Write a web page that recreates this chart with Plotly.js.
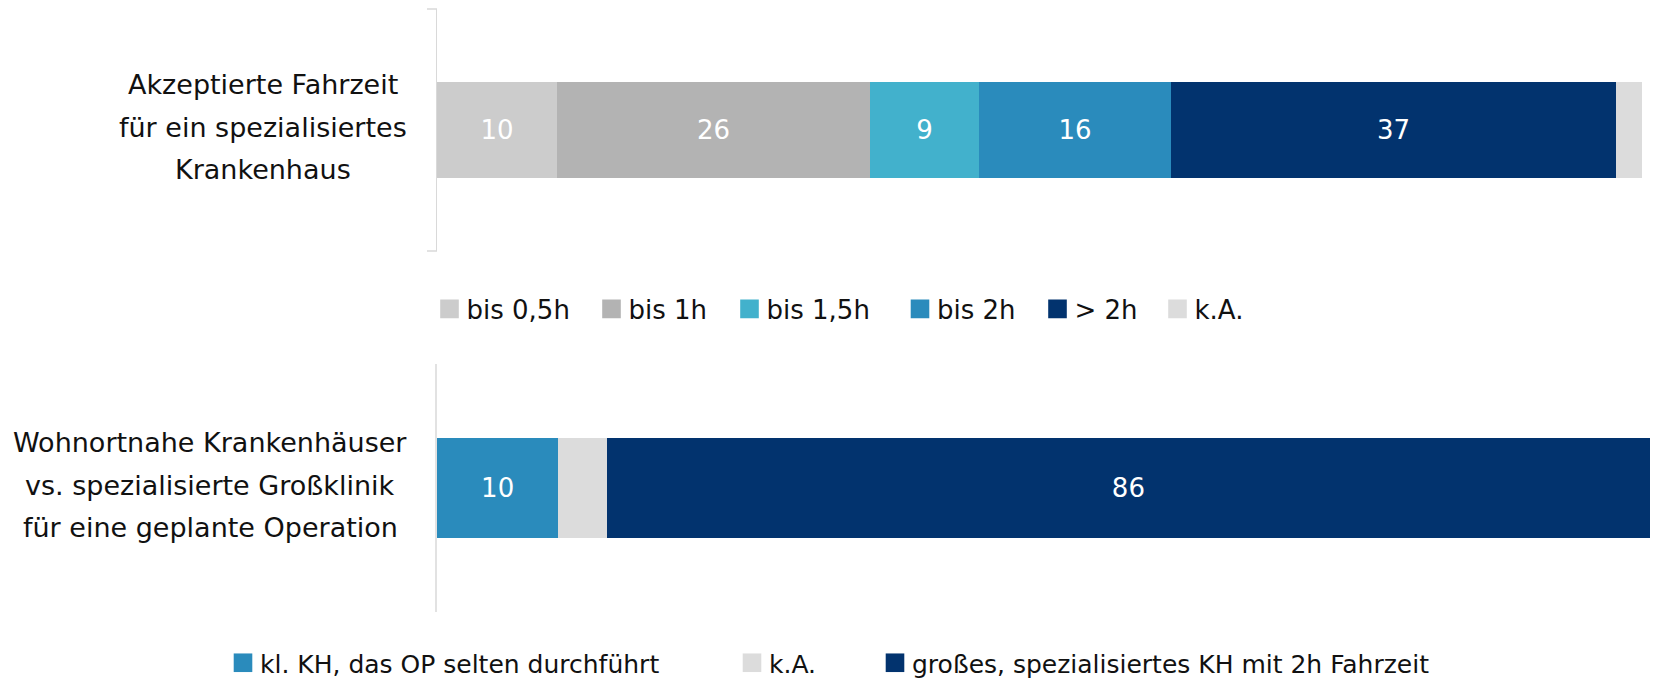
<!DOCTYPE html>
<html>
<head>
<meta charset="utf-8">
<script src="https://cdn.plot.ly/plotly-3.0.1.min.js"></script>
<style>
  html, body { margin: 0; padding: 0; background: #ffffff; overflow: hidden; width: 1654px; height: 681px; }
  #chart { position: absolute; left: 0; top: 0; width: 1654px; height: 681px; overflow: hidden; }
</style>
</head>
<body>
<div id="chart"></div>
<script>
// ---------- data ----------
var categoryTop = 'Akzeptierte Fahrzeit für ein spezialisiertes Krankenhaus';
var categoryBottom = 'Wohnortnahe Krankenhäuser vs. spezialisierte Großklinik für eine geplante Operation';
var labelLinesTop = ['Akzeptierte Fahrzeit', 'für ein spezialisiertes', 'Krankenhaus'];
var labelLinesBottom = ['Wohnortnahe Krankenhäuser', 'vs. spezialisierte Großklinik', 'für eine geplante Operation'];

var seriesTop = ['bis 0,5h', 'bis 1h', 'bis 1,5h', 'bis 2h', '> 2h', 'k.A.'];
var valuesTop = [9.9, 25.8, 9.0, 15.8, 36.7, 2.1];
var colorsTop = ['#cccccc', '#b3b3b3', '#42b1cc', '#2a8bbc', '#02336e', '#dcdcdc'];
var showValueTop = [true, true, true, true, true, false];

var seriesBottom = ['kl. KH, das OP selten durchführt', 'k.A.', 'großes, spezialisiertes KH mit 2h Fahrzeit'];
var valuesBottom = [10.0, 4.0, 86.0];
var colorsBottom = ['#2a8bbc', '#dcdcdc', '#02336e'];
var showValueBottom = [true, false, true];

// ---------- layout constants (pixels of the 1654x681 page) ----------
var W = 1654, H = 681;
var FONT = 'DejaVu Sans, Verdana, sans-serif';
var legendCentersTop = [449.5, 611.5, 749.5, 920, 1057.5, 1177.5];
var legendCenterYTop = 309;
var legendFontTop = 26;
var legendCentersBottom = [243, 752, 895];
var legendCenterYBottom = 663;
var legendFontBottom = 25;
var labelCenterXTop = 263;
var labelCenterXBottom = 210;
var SWATCH_SHIFT = 3;

var traces = [];
var layout = {
  width: W, height: H, autosize: false,
  margin: {l: 0, r: 0, t: 0, b: 0, pad: 0, autoexpand: false},
  paper_bgcolor: '#ffffff', plot_bgcolor: '#ffffff',
  barmode: 'stack',
  showlegend: true,
  font: {family: FONT, color: '#111111', size: 24},
  hovermode: false,
  xaxis:  {domain: [437 / W, 1650 / W], range: [0, 100], visible: false, fixedrange: true},
  xaxis2: {domain: [437 / W, 1650 / W], range: [0, 100], visible: false, fixedrange: true, anchor: 'y2'},
  yaxis:  {domain: [1 - 251 / H, 1 - 9 / H], type: 'category', range: [-0.5, 0.5],
           showticklabels: false, ticks: '', showgrid: false, zeroline: false,
           showline: true, linecolor: '#d9d9d9', linewidth: 1.5, anchor: 'x', fixedrange: true},
  yaxis2: {domain: [1 - 612 / H, 1 - 364 / H], type: 'category', range: [-0.5, 0.5],
           showticklabels: false, ticks: '', showgrid: false, zeroline: false,
           showline: true, linecolor: '#e2e2e2', linewidth: 2, anchor: 'x2', fixedrange: true},
  annotations: [],
  shapes: [
    {type: 'line', xref: 'paper', yref: 'y domain', x0: 427 / W, x1: 437 / W, y0: 1, y1: 1,
     line: {color: '#d9d9d9', width: 1.5}},
    {type: 'line', xref: 'paper', yref: 'y domain', x0: 427 / W, x1: 437 / W, y0: 0, y1: 0,
     line: {color: '#d9d9d9', width: 1.5}}
  ]
};

var legendIndex = 0;
function legendName(i) { return i === 0 ? 'legend' : 'legend' + (i + 1); }
function addLegend(cx, cy, fs) {
  var name = legendName(legendIndex);
  layout[name] = {
    x: (cx - 20 - SWATCH_SHIFT) / W, xanchor: 'left',
    y: 1 - cy / H, yanchor: 'middle',
    orientation: 'h', bgcolor: 'rgba(0,0,0,0)', borderwidth: 0,
    font: {family: FONT, size: fs, color: '#111111'},
    itemclick: false, itemdoubleclick: false, visible: true
  };
  legendIndex++;
  return name;
}

seriesTop.forEach(function (name, i) {
  traces.push({
    type: 'bar', orientation: 'h',
    name: name, showlegend: true,
    y: [categoryTop], x: [valuesTop[i]],
    xaxis: 'x', yaxis: 'y',
    width: 0.4,
    marker: {color: colorsTop[i], line: {width: 0}},
    texttemplate: showValueTop[i] ? '%{x:.0f}' : '',
    textposition: 'inside', insidetextanchor: 'middle',
    textfont: {family: FONT, size: 26, color: '#ffffff'},
    constraintext: 'none',
    legend: addLegend(legendCentersTop[i], legendCenterYTop, legendFontTop)
  });
});

seriesBottom.forEach(function (name, i) {
  traces.push({
    type: 'bar', orientation: 'h',
    name: name, showlegend: true,
    y: [categoryBottom], x: [valuesBottom[i]],
    xaxis: 'x2', yaxis: 'y2',
    width: 0.4,
    marker: {color: colorsBottom[i], line: {width: 0}},
    texttemplate: showValueBottom[i] ? '%{x:.0f}' : '',
    textposition: 'inside', insidetextanchor: 'middle',
    textfont: {family: FONT, size: 26, color: '#ffffff'},
    constraintext: 'none',
    legend: addLegend(legendCentersBottom[i], legendCenterYBottom, legendFontBottom)
  });
});

// category labels (centred, three lines each)
var lineGap = 42.5;
var labelLift = 3;
function addLabel(lines, yref, cx) {
  lines.forEach(function (t, k) {
    layout.annotations.push({
      text: t, xref: 'paper', yref: yref, x: cx / W, y: 0.5,
      xanchor: 'center', yanchor: 'middle', showarrow: false,
      yshift: (1 - k) * lineGap + labelLift,
      font: {family: FONT, size: 27, color: '#111111'}
    });
  });
}
addLabel(labelLinesTop, 'y domain', labelCenterXTop);
addLabel(labelLinesBottom, 'y2 domain', labelCenterXBottom);

Plotly.newPlot('chart', traces, layout, {displayModeBar: false, staticPlot: true}).then(function (gd) {
  // enlarge legend swatches to the reference's square size
  var paths = gd.querySelectorAll('.legendpoints path');
  paths.forEach(function (p) {
    var t = p.getAttribute('transform') || '';
    p.setAttribute('transform', t + ' translate(' + SWATCH_SHIFT + ',0) scale(1.55)');
  });
});
</script>
</body>
</html>
